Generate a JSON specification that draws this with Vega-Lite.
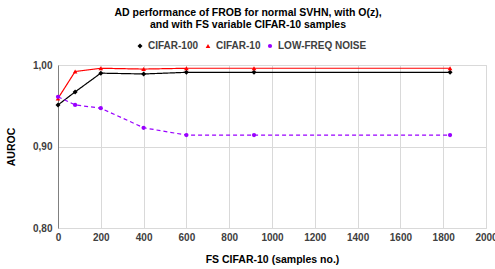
{
  "$schema": "https://vega.github.io/schema/vega-lite/v6.json",
  "width": 428,
  "height": 163,
  "autosize": {"type": "none"},
  "padding": {"left": 58, "top": 65, "right": 9, "bottom": 41},
  "background": "white",
  "title": {
    "text": ["AD performance of FROB for normal SVHN, with O(z),", "and with FS variable CIFAR-10 samples"],
    "font": "Liberation Sans",
    "fontSize": 10.5,
    "fontWeight": "bold",
    "color": "#000000",
    "anchor": "middle",
    "dx": -24,
    "lineHeight": 12,
    "offset": 11
  },
  "config": {
    "view": {"stroke": "#d9d9d9"},
    "font": "Liberation Sans",
    "axis": {
      "labelFont": "Liberation Sans",
      "labelFontWeight": "bold",
      "labelFontSize": 10,
      "labelColor": "#404040",
      "titleFont": "Liberation Sans",
      "titleFontWeight": "bold",
      "titleFontSize": 10.5,
      "titleColor": "#000000",
      "gridColor": "#d9d9d9",
      "ticks": false
    }
  },
  "data": {
    "values": [
      {"n": 0, "auroc": 0.951, "series": "CIFAR-100"},
      {"n": 80, "auroc": 0.967, "series": "CIFAR-100"},
      {"n": 200, "auroc": 0.990, "series": "CIFAR-100"},
      {"n": 400, "auroc": 0.989, "series": "CIFAR-100"},
      {"n": 600, "auroc": 0.991, "series": "CIFAR-100"},
      {"n": 916, "auroc": 0.991, "series": "CIFAR-100"},
      {"n": 1832, "auroc": 0.991, "series": "CIFAR-100"},
      {"n": 0, "auroc": 0.959, "series": "CIFAR-10"},
      {"n": 80, "auroc": 0.992, "series": "CIFAR-10"},
      {"n": 200, "auroc": 0.996, "series": "CIFAR-10"},
      {"n": 400, "auroc": 0.995, "series": "CIFAR-10"},
      {"n": 600, "auroc": 0.996, "series": "CIFAR-10"},
      {"n": 916, "auroc": 0.996, "series": "CIFAR-10"},
      {"n": 1832, "auroc": 0.996, "series": "CIFAR-10"},
      {"n": 0, "auroc": 0.961, "series": "LOW-FREQ NOISE"},
      {"n": 80, "auroc": 0.951, "series": "LOW-FREQ NOISE"},
      {"n": 200, "auroc": 0.947, "series": "LOW-FREQ NOISE"},
      {"n": 400, "auroc": 0.923, "series": "LOW-FREQ NOISE"},
      {"n": 600, "auroc": 0.914, "series": "LOW-FREQ NOISE"},
      {"n": 916, "auroc": 0.914, "series": "LOW-FREQ NOISE"},
      {"n": 1832, "auroc": 0.914, "series": "LOW-FREQ NOISE"}
    ]
  },
  "encoding": {
    "x": {
      "field": "n",
      "type": "quantitative",
      "scale": {"domain": [0, 2000], "nice": false},
      "axis": {
        "title": "FS CIFAR-10 (samples no.)",
        "values": [0, 200, 400, 600, 800, 1000, 1200, 1400, 1600, 1800, 2000],
        "format": "d",
        "labelFlush": false,
        "labelBound": false,
        "labelPadding": 4,
        "titlePadding": 12,
        "domain": false
      }
    },
    "y": {
      "field": "auroc",
      "type": "quantitative",
      "scale": {"domain": [0.8, 1.0], "nice": false, "zero": false},
      "axis": {
        "title": "AUROC",
        "values": [0.8, 0.9, 1.0],
        "labelExpr": "replace(format(datum.value, '.2f'), '.', ',')",
        "labelFlush": false,
        "domainColor": "#808080",
        "labelPadding": 6,
        "titlePadding": 16
      }
    },
    "color": {
      "field": "series",
      "type": "nominal",
      "scale": {"domain": ["CIFAR-100", "CIFAR-10", "LOW-FREQ NOISE"], "range": ["#000000", "#ff0000", "#9900ff"]},
      "legend": {
        "title": null,
        "orient": "none",
        "direction": "horizontal",
        "legendX": 77,
        "legendY": -24,
        "symbolType": "circle",
        "symbolSize": 8,
        "symbolStrokeWidth": 0,
        "labelFont": "Liberation Sans",
        "labelFontWeight": "bold",
        "labelFontSize": 10,
        "labelColor": "#404040",
        "labelOffset": 3,
        "columnPadding": 4
      }
    }
  },
  "layer": [
    {
      "mark": {"type": "line", "strokeWidth": 1.2},
      "encoding": {
        "strokeDash": {
          "field": "series",
          "type": "nominal",
          "scale": {"domain": ["CIFAR-100", "CIFAR-10", "LOW-FREQ NOISE"], "range": [[1, 0], [1, 0], [4, 3]]},
          "legend": null
        }
      }
    },
    {
      "mark": {"type": "point", "filled": true, "opacity": 1},
      "encoding": {
        "shape": {
          "field": "series",
          "type": "nominal",
          "scale": {"domain": ["CIFAR-100", "CIFAR-10", "LOW-FREQ NOISE"], "range": ["diamond", "triangle-up", "circle"]},
          "legend": null
        },
        "size": {
          "field": "series",
          "type": "nominal",
          "scale": {"domain": ["CIFAR-100", "CIFAR-10", "LOW-FREQ NOISE"], "range": [25, 18, 55]},
          "legend": null
        }
      }
    }
  ]
}
